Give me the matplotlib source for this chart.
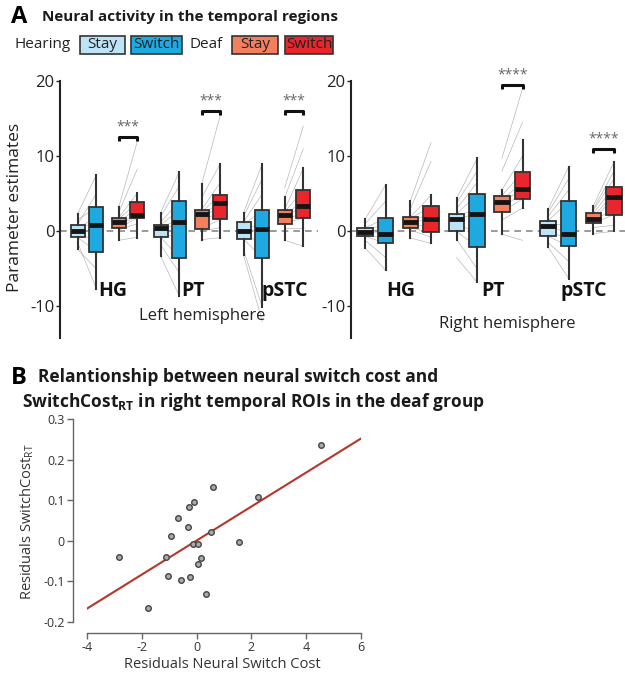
import numpy as np
import matplotlib
matplotlib.use("Agg")
import matplotlib.pyplot as plt
from matplotlib.patches import Rectangle

plt.rcParams['font.family'] = ['Open Sans', 'DejaVu Sans']
plt.rcParams['mathtext.fontset'] = 'custom'
plt.rcParams['mathtext.rm'] = 'Open Sans'
plt.rcParams['mathtext.bf'] = 'Open Sans:bold'

# ---- panel A data (order per ROI: hearing stay, hearing switch, deaf stay, deaf switch)
rois = ['HG', 'PT', 'pSTC']
cond_colors = ['#bde3f6', '#1fa9e1', '#f2805f', '#e8262b']

left_whislo = [-2.4, -7.7, -1.2, -0.9,   -3.3, -8.6, -1.1, -0.85,   -3.2, -10.1, -1.2, -2.0]
left_q1     = [-0.8, -2.8, 0.4, 1.8,     -0.75, -3.6, 0.35, 1.6,    -1.07, -3.5, 1.0, 1.8]
left_med    = [0.0, 0.9, 1.2, 2.2,       0.4, 1.3, 2.3, 3.7,        0.0, 0.35, 2.2, 3.3]
left_q3     = [0.9, 3.2, 1.8, 3.9,       0.85, 4.0, 2.9, 4.8,       1.25, 2.9, 2.9, 5.5]
left_whishi = [2.3, 7.5, 3.2, 5.1,       2.5, 7.9, 6.3, 9.0,        2.5, 9.0, 4.5, 8.4]

right_whislo = [-2.2, -5.2, -0.9, -1.6,  -1.1, -6.8, -0.4, 3.1,     -2.1, -6.3, -0.3, 0.0]
right_q1     = [-0.66, -1.6, 0.44, -0.13, 0.0, -2.1, 2.6, 4.3,      -0.66, -2.0, 1.1, 2.2]
right_med    = [-0.1, -0.3, 1.2, 1.6,    1.7, 2.3, 3.9, 5.6,        0.75, -0.3, 1.6, 4.5]
right_q3     = [0.44, 1.76, 1.9, 3.3,    2.3, 4.9, 4.75, 7.9,       1.4, 4.0, 2.4, 5.95]
right_whishi = [1.6, 6.2, 4.05, 4.8,     4.4, 9.7, 5.5, 12.1,       2.95, 8.6, 3.4, 9.25]

# individual subjects (stay -> switch), per ROI, hearing then deaf
left_hear_stay = [
    [-2.4, -1.5, -0.8, -0.4, 0.0, 0.3, 0.6, 0.9, 1.5, 2.3],
    [-3.3, -1.8, -0.75, -0.2, 0.3, 0.5, 0.85, 1.2, 2.0, 2.5],
    [-3.2, -2.5, -1.07, -0.5, 0.0, 0.3, 0.8, 1.25, 2.0, 2.5]]
left_hear_switch = [
    [-5.0, -7.6, -2.7, 0.5, -1.5, 2.0, 1.0, 5.0, 3.2, 7.5],
    [-8.6, -5.5, -3.6, -1.0, 1.0, 1.6, 2.8, 4.0, 6.0, 7.9],
    [-12.0, -10.1, -3.5, -1.5, 0.35, 1.0, 2.9, 5.0, 7.0, 9.0]]
left_deaf_stay = [
    [-1.2, 0.2, 0.4, 0.8, 1.1, 1.3, 1.6, 1.8, 2.5, 3.2],
    [-1.1, 0.0, 0.35, 1.5, 2.0, 2.3, 2.6, 2.9, 4.5, 6.3],
    [-1.2, 0.5, 1.0, 1.5, 2.0, 2.2, 2.6, 2.9, 4.5, 5.8]]
left_deaf_switch = [
    [-0.8, 1.0, 1.8, 2.0, 2.2, 3.0, 3.9, 5.1, 8.3, 12.0],
    [-0.85, 0.5, 1.6, 2.5, 3.2, 3.7, 4.8, 6.5, 9.0, 15.5],
    [-2.0, 0.5, 1.8, 2.5, 3.3, 4.0, 5.5, 8.4, 11.0, 14.0]]

right_hear_stay = [
    [-2.2, -1.2, -0.66, -0.4, -0.1, 0.1, 0.3, 0.44, 1.0, 1.6],
    [-3.5, -1.1, 0.0, 0.8, 1.7, 2.0, 2.3, 3.0, 3.8, 4.4],
    [-2.1, -1.5, -0.66, 0.0, 0.75, 1.0, 1.4, 2.0, 2.5, 2.95]]
right_hear_switch = [
    [-5.2, -3.5, -1.6, -1.0, -0.3, 0.2, 0.8, 1.76, 4.0, 6.2],
    [-6.8, -5.0, -2.1, 0.0, 2.3, 3.0, 4.9, 6.5, 8.0, 9.7],
    [-6.3, -4.0, -2.0, -1.0, -0.3, 1.0, 4.0, 5.5, 7.0, 8.6]]
right_deaf_stay = [
    [-0.9, 0.2, 0.44, 0.8, 1.2, 1.4, 1.7, 1.9, 3.0, 4.05],
    [-0.4, 1.5, 2.6, 3.2, 3.9, 4.2, 4.75, 5.5, 8.0, 9.7],
    [-0.3, 0.5, 1.1, 1.4, 1.6, 2.0, 2.4, 2.8, 3.0, 3.4]]
right_deaf_switch = [
    [-1.6, -0.8, -0.13, 0.8, 1.6, 2.3, 3.3, 4.8, 9.3, 11.8],
    [-1.2, 3.1, 4.3, 5.0, 5.6, 6.5, 7.9, 10.0, 14.5, 19.0],
    [0.0, 0.8, 2.2, 3.0, 4.5, 5.0, 5.95, 7.0, 8.0, 9.25]]

# significance (deaf stay vs switch): roi index, bracket height, label
left_sig = [(0, 12.5, '***'), (1, 16.0, '***'), (2, 16.0, '***')]
right_sig = [(1, 19.5, '****'), (2, 10.9, '****')]

# ---- panel B data
resid_neural = [4.54, 0.585, 2.23, -0.11, -0.28, -0.67, -0.30, -0.94, 0.51, -0.12, 0.04,
                1.54, -2.85, -1.10, 0.15, 0.04, -1.04, -0.56, -0.24, 0.33, -1.78]
resid_rt = [0.235, 0.132, 0.108, 0.095, 0.083, 0.056, 0.033, 0.011, 0.021, -0.008, -0.008,
            -0.003, -0.039, -0.040, -0.043, -0.056, -0.086, -0.097, -0.089, -0.130, -0.165]
fit_slope = 0.0419
fit_intercept = 0.0006

W, H = 625, 676
fig = plt.figure(figsize=(W / 100, H / 100), dpi=100)


def fx(px):
    return px / W


def fy(py):
    return 1 - py / H


offsets = [-0.36, -0.135, 0.135, 0.36]


def draw_panel(ax, whislo, q1, med, q3, whishi, hs, hw, ds, dw, sig, roi_x, hemi, hemi_xy):
    ax.set_ylim(-14.2, 20)
    ax.axhline(0, color='#8a8a8a', lw=1.2, dashes=(4, 3), zorder=0.5)
    for r in range(3):
        xs = [r + o for o in offsets]
        for i in range(len(hs[r])):
            ax.plot([xs[0], xs[1]], [hs[r][i], hw[r][i]], color='#9a9a9a', lw=0.5, alpha=0.7, zorder=1)
            ax.plot([xs[2], xs[3]], [ds[r][i], dw[r][i]], color='#9a9a9a', lw=0.5, alpha=0.7, zorder=1)
        for c in range(4):
            k = r * 4 + c
            st = dict(med=med[k], q1=q1[k], q3=q3[k], whislo=whislo[k], whishi=whishi[k], fliers=[])
            b = ax.bxp([st], positions=[xs[c]], widths=0.17, patch_artist=True, showcaps=False,
                       boxprops=dict(facecolor=cond_colors[c], edgecolor='#333333', lw=1.3),
                       medianprops=dict(color='#151515', lw=3.5, solid_capstyle='butt'),
                       whiskerprops=dict(color='#333333', lw=1.5), manage_ticks=False)
            for art in b['boxes'] + b['medians'] + b['whiskers']:
                art.set_zorder(2)
        ax.text(roi_x[r], -8.0, rois[r], fontsize=14, fontweight='bold', ha='center', va='center',
                color='#111111')
    for r, yb, lab in sig:
        x1, x2 = r + offsets[2], r + offsets[3]
        ax.plot([x1, x1, x2, x2], [yb - 0.5, yb, yb, yb - 0.5], color='#111111', lw=2.2,
                clip_on=False, zorder=4, solid_capstyle='butt')
        ax.text((x1 + x2) / 2, yb + 0.35, lab, fontsize=10, color='#666666', ha='center',
                va='bottom', clip_on=False)
    ax.text(hemi_xy[0], hemi_xy[1], hemi, fontsize=12, ha='center', va='center', color='#222222')
    for s in ['top', 'right', 'bottom']:
        ax.spines[s].set_visible(False)
    ax.spines['left'].set_linewidth(1.5)
    ax.spines['left'].set_color('#222222')
    ax.set_xticks([])
    ax.set_yticks([-10, 0, 10, 20])
    ax.set_yticklabels(['-10', '0', '10', '20'])
    ax.tick_params(axis='y', direction='out', length=3, width=1, labelsize=12, colors='#222222', pad=1)
    ax.patch.set_alpha(0)


axL = fig.add_axes([fx(60), fy(338), fx(258), 257 / H])
axL.set_xlim(-0.572, 2.536)
draw_panel(axL, left_whislo, left_q1, left_med, left_q3, left_whishi,
           left_hear_stay, left_hear_switch, left_deaf_stay, left_deaf_switch,
           left_sig, [0.067, 1.03, 2.14], 'Left hemisphere', (1.14, -11.3))

axR = fig.add_axes([fx(351), fy(338), fx(274), 257 / H])
axR.set_xlim(-0.514, 2.48)
draw_panel(axR, right_whislo, right_q1, right_med, right_q3, right_whishi,
           right_hear_stay, right_hear_switch, right_deaf_stay, right_deaf_switch,
           right_sig, [0.032, 1.04, 2.03], 'Right hemisphere', (1.19, -12.4))

fig.text(fx(15), fy(207), 'Parameter estimates', rotation=90, fontsize=12.5, ha='center',
         va='center', color='#222222')

# titles
fig.text(fx(11), fy(17), 'A', fontsize=17, fontweight='bold', ha='left', va='center')
fig.text(fx(42), fy(17), 'Neural activity in the temporal regions', fontsize=11,
         fontweight='bold', ha='left', va='center', color='#1a1a1a')

# legend
fig.text(fx(14), fy(45), 'Hearing', fontsize=11, ha='left', va='center', color='#222222')
fig.text(fx(206), fy(45), 'Deaf', fontsize=11, ha='center', va='center', color='#222222')
leg_boxes = [(80, 125, 'Stay', 0), (131, 182, 'Switch', 1), (232, 278, 'Stay', 2), (285, 333, 'Switch', 3)]
for x0, x1, lab, c in leg_boxes:
    fig.patches.append(Rectangle((fx(x0), fy(54)), fx(x1 - x0), 18 / H, transform=fig.transFigure,
                                 facecolor=cond_colors[c], edgecolor='#333333', lw=1.2))
    fig.text(fx((x0 + x1) / 2), fy(45), lab, fontsize=11, ha='center', va='center', color='#222222')

# panel B
fig.text(fx(11), fy(378), 'B', fontsize=17, fontweight='bold', ha='left', va='center')
fig.text(fx(38), fy(377), 'Relantionship between neural switch cost and', fontsize=12.5,
         fontweight='bold', ha='left', va='center', color='#1a1a1a')
fig.text(fx(22), fy(402), r'SwitchCost$_{\mathbf{RT}}$ in right temporal ROIs in the deaf group',
         fontsize=12.5, fontweight='bold', ha='left', va='center', color='#1a1a1a')

axB = fig.add_axes([fx(87), fy(622), fx(274), 203 / H])
axB.scatter(resid_neural, resid_rt, s=16, facecolor='#aaaaaa', edgecolor='#444444', lw=1, zorder=3)
xl = np.array([-4, 6])
axB.plot(xl, fit_slope * xl + fit_intercept, color='#b5372b', lw=1.5, zorder=2)
axB.set_xlim(-4, 6)
axB.set_ylim(-0.2, 0.3)
axB.set_xticks([-4, -2, 0, 2, 4, 6])
axB.set_xticklabels(['-4', '-2', '0', '2', '4', '6'])
axB.set_yticks([-0.2, -0.1, 0, 0.1, 0.2, 0.3])
axB.set_yticklabels(['-0.2', '-0.1', '0', '0.1', '0.2', '0.3'])
for s in ['top', 'right']:
    axB.spines[s].set_visible(False)
axB.spines['left'].set_position(('outward', 10))
axB.spines['bottom'].set_position(('outward', 8))
for s in ['left', 'bottom']:
    axB.spines[s].set_color('#666666')
    axB.spines[s].set_linewidth(1)
axB.tick_params(direction='out', length=4, width=1, colors='#666666', labelcolor='#333333',
                labelsize=9, pad=2)
axB.patch.set_alpha(0)
fig.text(fx(222), fy(665), 'Residuals Neural Switch Cost', fontsize=10.5, ha='center',
         va='center', color='#333333')
fig.text(fx(27), fy(522), r'Residuals SwitchCost$_{\mathrm{RT}}$', rotation=90, fontsize=10.5,
         ha='center', va='center', color='#333333')

fig.savefig('out.png', dpi=100)
